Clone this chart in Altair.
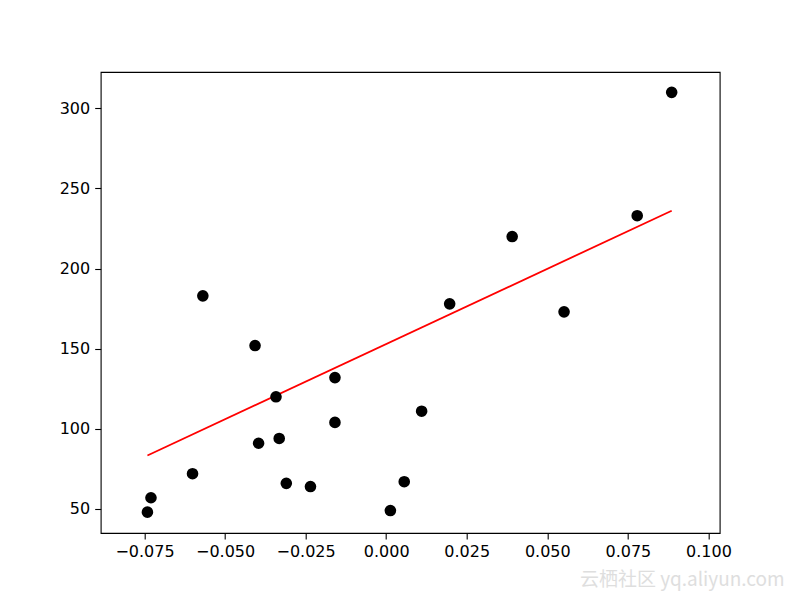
import altair as alt
import pandas as pd

# Test points (bmi feature vs. target)
x_vals = [0.0779, -0.0396, 0.0110, -0.0407, -0.0342, 0.0056, 0.0886, -0.0332,
          -0.0569, -0.0310, 0.0552, -0.0601, 0.0013, -0.0235, -0.0741, 0.0197,
          -0.0159, -0.0159, 0.0391, -0.0730]
y_vals = [233, 91, 111, 152, 120, 67, 310, 94, 183, 66, 173, 72, 49, 64, 48,
          178, 104, 132, 220, 57]

# Fitted line end points
line_x = [-0.0741, 0.0886]
line_y = [83.4, 236.1]

x_ticks = [-0.075, -0.05, -0.025, 0.0, 0.025, 0.05, 0.075, 0.1]
y_ticks = [50, 100, 150, 200, 250, 300]

pts = pd.DataFrame({"x": x_vals, "y": y_vals})
ln = pd.DataFrame({"x": line_x, "y": line_y})

xscale = alt.Scale(domain=[-0.0886, 0.1035], nice=False, zero=False)
yscale = alt.Scale(domain=[35.0, 322.7], nice=False, zero=False)

axis_common = dict(grid=False, domain=False, tickColor="#000", tickSize=6,
                   tickWidth=1.1, labelFont="DejaVu Sans", labelFontSize=16,
                   labelColor="#000", labelPadding=5, title=None)

xaxis = alt.Axis(values=x_ticks, format=".3f", **axis_common)
yaxis = alt.Axis(values=y_ticks, format="d", **axis_common)

scatter = alt.Chart(pts).mark_circle(color="black", opacity=1, size=135).encode(
    x=alt.X("x:Q", scale=xscale, axis=xaxis),
    y=alt.Y("y:Q", scale=yscale, axis=yaxis),
)

line = alt.Chart(ln).mark_line(color="#ff0000", strokeWidth=1.8).encode(
    x=alt.X("x:Q", scale=xscale),
    y=alt.Y("y:Q", scale=yscale),
)

watermark = alt.Chart(pd.DataFrame({"t": ["云栖社区 yq.aliyun.com"]})).mark_text(
    font="Noto Sans CJK SC", fontSize=19, color="#dedede", align="right",
    baseline="middle",
).encode(x=alt.value(684), y=alt.value(508), text="t:N")

chart = alt.layer(line, scatter, watermark).properties(
    width=619, height=461,
    autosize=alt.AutoSizeParams(type="none"),
    padding={"left": 92.7, "top": 64, "right": 72, "bottom": 60},
    background="white",
).configure_view(stroke="#000", strokeWidth=1.1)

chart.save("out.html", embed_options={"renderer": "svg", "actions": False})
